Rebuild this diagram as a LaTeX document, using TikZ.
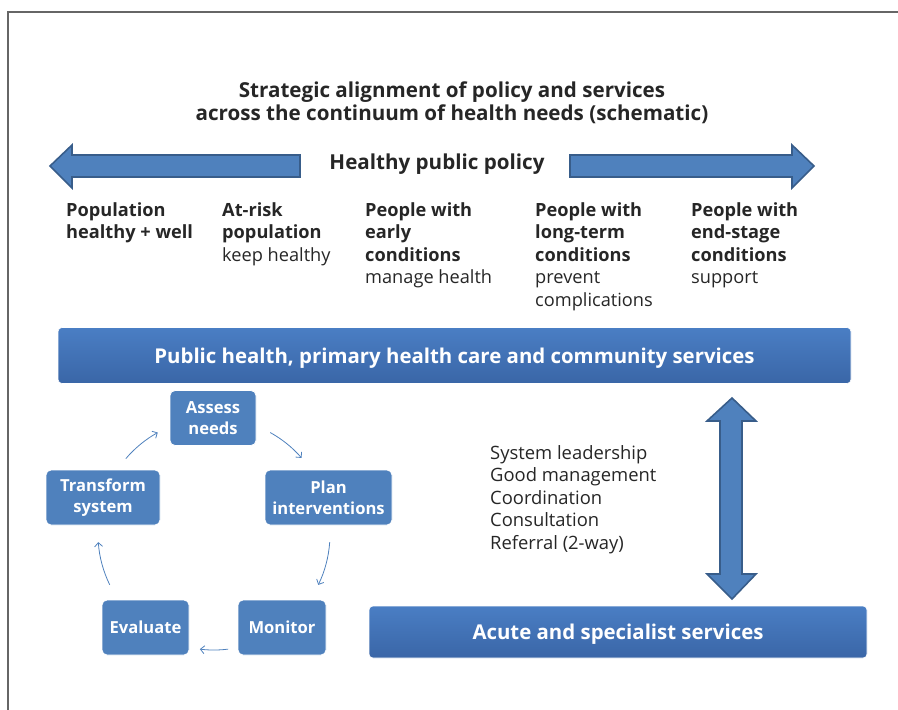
\documentclass[tikz,border=0pt]{standalone}
\usepackage{fontspec}
\setmainfont{Open Sans}
\usetikzlibrary{arrows.meta}
\definecolor{boxblue}{HTML}{4F81BD}
\definecolor{edgeblue}{HTML}{385D8A}
\definecolor{bartop}{HTML}{4A7EC4}
\definecolor{barbot}{HTML}{3A66A7}
\definecolor{txt}{HTML}{262626}
\definecolor{framegray}{HTML}{666666}
\tikzset{
  blockarrow/.style={fill=boxblue, draw=edgeblue, line width=1.6pt, line join=miter},
  cyclebox/.style={fill=boxblue, draw=white, line width=0.8pt, rounded corners=5pt,
    text=white, align=center, inner sep=0pt,
    font=\fontsize{16.6}{21}\selectfont\bfseries},
  bar/.style={top color=bartop, bottom color=barbot, draw=white, line width=0.6pt,
    rounded corners=4pt, text=white, inner sep=0pt, text depth=0pt,
    font=\fontsize{20.4}{24}\selectfont\bfseries},
  coltext/.style={anchor=north west, align=left, inner sep=0pt, text=txt,
    font=\fontsize{18.2}{22.6}\selectfont},
  listtext/.style={anchor=north west, align=left, inner sep=0pt, text=txt,
    font=\fontsize{18.4}{22.6}\selectfont},
  cyclearrow/.style={draw=boxblue, line width=0.8pt, -{Straight Barb[length=4pt,width=8pt]}},
}
\begin{document}
\begin{tikzpicture}[x=1pt,y=-1pt]
\useasboundingbox (0,0) rectangle (898,710);
% frame
\draw[framegray, line width=1.6pt] (8,710) -- (8,12) -- (898,12);
% title
\node[align=center, text=txt, font=\fontsize{20.6}{23}\selectfont\bfseries] (title) at (452,103)
  {Strategic alignment of policy and services\\across the continuum of health needs (schematic)};
% healthy public policy arrows
\draw[blockarrow] (50,166) -- (72,145) -- (72,155) -- (300,155) -- (300,177) -- (72,177) -- (72,188) -- cycle;
\draw[blockarrow] (570,155) -- (792,155) -- (792,145) -- (814,166) -- (792,188) -- (792,177) -- (570,177) -- cycle;
\node[text=txt, font=\fontsize{20.6}{23}\selectfont\bfseries] (hpp) at (437,164) {Healthy public policy};
% columns
\node[coltext] (c1) at (66,202) {\bfseries Population\\\bfseries healthy + well};
\node[coltext] (c2) at (222,202) {\bfseries At-risk\\\bfseries population\\keep healthy};
\node[coltext] (c3) at (365,202) {\bfseries People with\\\bfseries early\\\bfseries conditions\\manage health};
\node[coltext] (c4) at (535,202) {\bfseries People with\\\bfseries long-term\\\bfseries conditions\\prevent\\complications};
\node[coltext] (c5) at (691,202) {\bfseries People with\\\bfseries end-stage\\\bfseries conditions\\support};
% bars
\node[bar, minimum width=793pt, minimum height=56pt] (phc) at (454.5,355.5)
  {Public health, primary health care and community services};
\node[bar, minimum width=498pt, minimum height=52pt] (acute) at (618,632)
  {Acute and specialist services};
% vertical double arrow
\draw[blockarrow] (732,398) -- (756,421) -- (742,421) -- (742,574) -- (756,574) -- (732,599)
  -- (707,574) -- (720,574) -- (720,421) -- (707,421) -- cycle;
% list
\node[listtext] (list) at (490,445) {System leadership\\Good management\\Coordination\\Consultation\\Referral (2-way)};
% cycle
\node[cyclebox, minimum width=86pt, minimum height=55pt] (assess) at (213,418) {Assess\\needs};
\node[cyclebox, minimum width=127pt, minimum height=55pt] (plan) at (328.5,497.5) {Plan\\interventions};
\node[cyclebox, minimum width=88pt, minimum height=55pt] (monitor) at (282,627.5) {Monitor};
\node[cyclebox, minimum width=87pt, minimum height=55pt] (evaluate) at (145.5,627.5) {Evaluate};
\node[cyclebox, minimum width=114pt, minimum height=55pt] (transform) at (103,497.5) {Transform\\system};
\coordinate (cyc) at (214,534);
\draw[cyclearrow] (cyc) ++(-61:116) arc[start angle=-61, end angle=-41, radius=116];
\draw[cyclearrow] (cyc) ++(4:116) arc[start angle=4, end angle=26, radius=116];
\draw[cyclearrow] (cyc) ++(83:116) arc[start angle=83, end angle=97, radius=116];
\draw[cyclearrow] (cyc) ++(154:116) arc[start angle=154, end angle=176, radius=116];
\draw[cyclearrow] (cyc) ++(220.5:116) arc[start angle=220.5, end angle=241, radius=116];
\end{tikzpicture}
\end{document}
